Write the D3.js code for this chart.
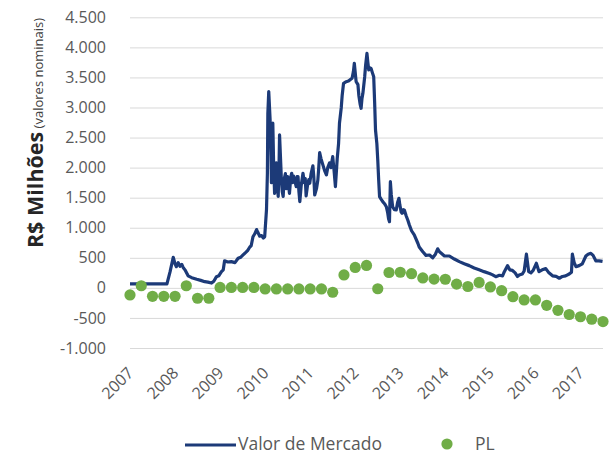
<!DOCTYPE html>
<html><head><meta charset="utf-8">
<script src="https://cdn.jsdelivr.net/npm/d3@7"></script>
<style>
html,body{margin:0;padding:0;background:#fff;}
svg{display:block;font-family:"Open Sans",sans-serif;}
</style></head>
<body><svg id="c" width="614" height="455"></svg>
<script>
// ---- data ----
const yearTicks = [2007,2008,2009,2010,2011,2012,2013,2014,2015,2016,2017];
const yTicks = [-1000,-500,0,500,1000,1500,2000,2500,3000,3500,4000,4500];

// Valor de Mercado (R$ milhões), time as decimal year
const mvYears = [2007.00,2007.44,2007.82,2007.89,2007.96,2008.00,2008.03,2008.07,2008.11,2008.15,2008.18,2008.22,2008.29,2008.37,2008.48,2008.57,2008.66,2008.73,2008.81,2008.86,2008.92,2008.97,2009.03,2009.07,2009.10,2009.17,2009.25,2009.33,2009.40,2009.46,2009.51,2009.57,2009.61,2009.66,2009.69,2009.73,2009.77,2009.81,2009.84,2009.88,2009.92,2009.96,2009.99,2010.03,2010.05,2010.06,2010.08,2010.11,2010.13,2010.14,2010.16,2010.17,2010.19,2010.21,2010.23,2010.25,2010.27,2010.29,2010.31,2010.32,2010.35,2010.36,2010.38,2010.40,2010.42,2010.45,2010.47,2010.50,2010.52,2010.54,2010.57,2010.59,2010.61,2010.63,2010.66,2010.69,2010.71,2010.73,2010.75,2010.77,2010.80,2010.84,2010.87,2010.89,2010.91,2010.94,2010.97,2010.99,2011.02,2011.06,2011.08,2011.10,2011.14,2011.17,2011.19,2011.21,2011.24,2011.28,2011.32,2011.36,2011.39,2011.43,2011.46,2011.50,2011.53,2011.56,2011.60,2011.63,2011.65,2011.69,2011.71,2011.74,2011.80,2011.85,2011.90,2011.93,2011.96,2011.98,2012.01,2012.02,2012.06,2012.08,2012.11,2012.13,2012.15,2012.17,2012.21,2012.23,2012.26,2012.28,2012.30,2012.33,2012.35,2012.38,2012.41,2012.43,2012.45,2012.48,2012.50,2012.52,2012.54,2012.57,2012.61,2012.65,2012.69,2012.72,2012.74,2012.76,2012.78,2012.80,2012.83,2012.87,2012.91,2012.94,2012.97,2012.99,2013.02,2013.04,2013.07,2013.09,2013.13,2013.17,2013.20,2013.25,2013.31,2013.39,2013.42,2013.50,2013.57,2013.65,2013.72,2013.78,2013.83,2013.87,2013.91,2013.98,2014.09,2014.20,2014.31,2014.42,2014.53,2014.64,2014.75,2014.86,2014.98,2015.04,2015.12,2015.20,2015.27,2015.31,2015.38,2015.43,2015.49,2015.55,2015.60,2015.64,2015.71,2015.75,2015.80,2015.85,2015.90,2015.95,2016.02,2016.08,2016.15,2016.23,2016.30,2016.38,2016.46,2016.53,2016.60,2016.67,2016.75,2016.80,2016.82,2016.86,2016.90,2016.97,2017.04,2017.12,2017.17,2017.23,2017.28,2017.34,2017.41,2017.49];
const mvValues = [65,65,68,270,509,400,352,420,360,390,340,300,200,170,143,125,103,95,80,110,186,200,270,300,450,430,436,420,492,510,547,590,620,680,700,850,900,970,920,860,870,830,850,1300,1900,2900,3263,2800,2200,1750,2300,2740,2000,1570,1900,2080,1700,1520,2100,2543,2000,1800,1600,1520,1800,1900,1650,1850,1700,1573,1850,1906,1750,1860,1780,1683,1850,1849,1600,1434,1700,1906,1750,1820,1530,1700,1800,1740,1900,2030,1850,1545,1650,1794,2000,2250,2150,2050,1950,1880,2000,2080,2000,2182,1950,1683,2150,2400,2737,3000,3200,3402,3429,3440,3470,3486,3600,3735,3500,3429,3380,3200,3050,2987,3150,3236,3512,3700,3901,3750,3624,3660,3652,3580,3512,3100,2626,2400,2127,1800,1517,1480,1434,1400,1350,1250,1150,1101,1766,1550,1350,1300,1296,1420,1490,1380,1260,1240,1300,1296,1200,1120,1050,950,880,742,680,602,540,547,500,560,650,600,575,530,530,480,436,400,370,330,300,270,240,220,186,210,200,270,370,300,290,250,190,215,230,280,560,270,250,290,409,270,300,320,250,200,190,160,190,200,230,260,560,420,352,370,400,530,560,575,540,450,450,440];

// PL (R$ milhões), quarterly
const plYears = [2007.00,2007.25,2007.50,2007.75,2008.00,2008.25,2008.50,2008.75,2009.00,2009.25,2009.50,2009.75,2010.00,2010.25,2010.50,2010.75,2011.00,2011.25,2011.50,2011.75,2012.00,2012.25,2012.50,2012.75,2013.00,2013.25,2013.50,2013.75,2014.00,2014.25,2014.50,2014.75,2015.00,2015.25,2015.50,2015.75,2016.00,2016.25,2016.50,2016.75,2017.00,2017.25,2017.50];
const plValues = [-118,35,-140,-140,-140,35,-173,-173,7,7,7,7,-18,-18,-18,-18,-18,-18,-73,215,340,373,-15,256,260,236,165,145,143,62,23,90,15,-47,-147,-201,-201,-290,-373,-443,-480,-521,-560];

// ---- chart ----
const svg = d3.select("#c");
const mLeft = 130, mRight = 603, mTop = 17.3, mBottom = 348;
const x = d3.scaleLinear().domain([2007, 2017.5]).range([mLeft, mRight]);
const y = d3.scaleLinear().domain([-1000, 4500]).range([mBottom, mTop]);

const loc = d3.formatLocale({decimal: ",", thousands: ".", grouping: [3], currency: ["R$ ", ""], minus: "-"});
const fmt = loc.format(",");

// gridlines + y labels
const gy = svg.append("g").attr("transform", `translate(${mLeft},0)`)
  .call(d3.axisLeft(y).tickValues(yTicks).tickSize(-(mRight - mLeft)).tickPadding(24).tickFormat(fmt));
gy.select(".domain").remove();
gy.selectAll(".tick line").attr("stroke", "#d9d9d9").attr("stroke-width", 1);
gy.selectAll(".tick text").attr("fill", "#595959").style("font-size", "16px").style("font-family", "Open Sans, sans-serif");

// x labels
const gx = svg.append("g").attr("transform", `translate(0,${mBottom})`)
  .call(d3.axisBottom(x).tickValues(yearTicks).tickSize(0).tickFormat(d => String(d)));
gx.select(".domain").remove();
gx.selectAll(".tick text")
  .attr("fill", "#595959").style("font-size", "16px").style("font-family", "Open Sans, sans-serif")
  .attr("text-anchor", "end")
  .attr("dy", 0).attr("y", 0)
  .attr("transform", "translate(4,26) rotate(-45)");

// y title
const yt = svg.append("text")
  .attr("transform", "translate(43,133) rotate(-90)")
  .attr("text-anchor", "middle").attr("fill", "#262626");
yt.append("tspan").text("R$ Milhões").style("font-weight", "700").style("font-size", "21.5px");
yt.append("tspan").text(" (valores nominais)").style("font-size", "13px").attr("fill", "#404040");

// line
const line = d3.line().x((d, i) => x(mvYears[i])).y(d => y(d));
svg.append("path").datum(mvValues).attr("d", line)
  .attr("fill", "none").attr("stroke", "#1c3a78").attr("stroke-width", 3.2).attr("stroke-linejoin", "round");

// PL dots
svg.append("g").selectAll("circle").data(plValues).join("circle")
  .attr("cx", (d, i) => x(plYears[i])).attr("cy", d => y(d)).attr("r", 5.6)
  .attr("fill", "#70ad47");

// legend
const lg = svg.append("g");
lg.append("line").attr("x1", 185).attr("x2", 236).attr("y1", 445).attr("y2", 445)
  .attr("stroke", "#1c3a78").attr("stroke-width", 3.2);
lg.append("text").attr("x", 238).attr("y", 450).text("Valor de Mercado")
  .attr("fill", "#595959").style("font-size", "17.5px");
lg.append("circle").attr("cx", 447).attr("cy", 444).attr("r", 5.6).attr("fill", "#70ad47");
lg.append("text").attr("x", 475).attr("y", 450).text("PL")
  .attr("fill", "#595959").style("font-size", "17.5px");
</script></body></html>
